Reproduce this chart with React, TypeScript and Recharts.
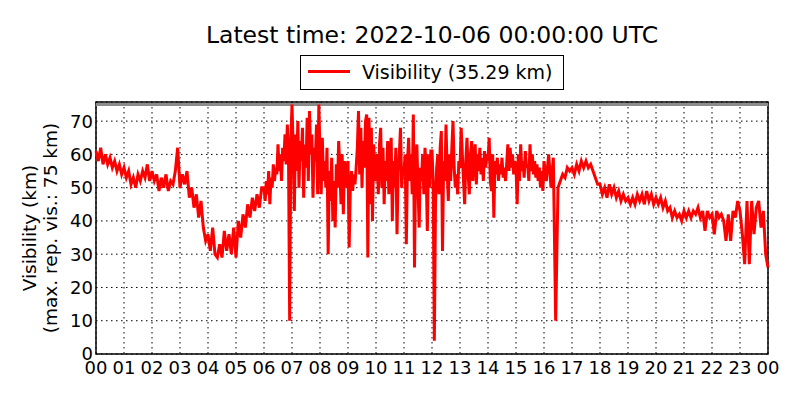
import {
  CartesianGrid,
  Label,
  Line,
  LineChart,
  ReferenceArea,
  ReferenceLine,
  XAxis,
  YAxis
} from "recharts";

// Visibilité sur 24 h: 12 valeurs par heure,
// 24 valeurs par heure pour la période bruitée (06-15 h).
const h00 = [61, 58, 62, 57, 60, 57, 59, 56, 58, 55, 57, 54];
const h01 = [56, 53, 55, 51, 53, 50, 54, 52, 55, 53, 57, 52];
const h02 = [55, 52, 54, 49, 53, 50, 54, 49, 52, 51, 55, 62];
const h03 = [50, 54, 51, 55, 47, 50, 44, 48, 41, 46, 38, 34];
const h04 = [36, 31, 38, 30, 29, 33, 29, 37, 31, 36, 30, 38];
const h05 = [29, 40, 35, 42, 38, 45, 41, 47, 43, 48, 44, 50];
const h06 = [50, 46, 52, 48, 55, 45, 53, 50, 57, 52, 56, 54, 63, 55, 60, 52, 62, 58, 66, 57, 69, 60, 10, 64];
const h07 = [75, 62, 43, 66, 55, 70, 50, 64, 58, 68, 47, 63, 56, 71, 52, 73, 60, 66, 47, 62, 58, 69, 48, 75];
const h08 = [60, 48, 65, 52, 58, 50, 62, 30, 55, 46, 59, 40, 52, 38, 57, 50, 64, 56, 45, 60, 42, 58, 50, 56];
const h09 = [58, 32, 50, 55, 49, 54, 51, 56, 62, 73, 54, 68, 50, 64, 56, 70, 72, 29, 71, 45, 68, 40, 63, 55];
const h10 = [52, 60, 48, 63, 68, 50, 62, 45, 58, 52, 64, 48, 60, 65, 40, 58, 50, 62, 36, 55, 60, 68, 50, 56];
const h11 = [55, 60, 33, 58, 65, 52, 60, 48, 72, 26, 58, 63, 50, 38, 56, 52, 60, 48, 62, 55, 37, 60, 50, 61];
const h12 = [61, 52, 4, 45, 56, 60, 48, 62, 67, 31, 58, 52, 69, 55, 46, 60, 52, 62, 70, 56, 50, 54, 48, 58];
const h13 = [56, 68, 60, 52, 45, 58, 65, 54, 48, 60, 64, 52, 58, 63, 51, 60, 55, 62, 54, 59, 52, 61, 56, 60];
const h14 = [58, 65, 52, 49, 60, 41, 58, 54, 59, 52, 57, 54, 59, 53, 56, 52, 57, 63, 55, 62, 56, 60, 54, 58];
const h15 = [56, 45, 60, 52, 63, 55, 58, 53, 61, 56, 57, 52, 63, 55, 60, 54, 58, 53, 57, 52, 56, 50, 55, 49];
const h16 = [58, 52, 60, 50, 59, 10, 50, 52, 54, 53, 56, 55];
const h17 = [56, 54, 57, 55, 58, 56, 58, 56, 57, 55, 53, 51];
const h18 = [51, 48, 50, 47, 51, 48, 50, 47, 49, 46, 48, 46];
const h19 = [47, 45, 47, 45, 48, 46, 48, 45, 49, 46, 48, 45];
const h20 = [47, 45, 47, 44, 46, 43, 44, 41, 43, 41, 42, 40];
const h21 = [43, 41, 43, 41, 43, 42, 44, 41, 43, 37, 43, 41];
const h22 = [42, 36, 43, 41, 42, 40, 34, 42, 34, 43, 41, 46];
const h23 = [43, 36, 27, 46, 27, 46, 36, 44, 46, 38, 43, 30];
const lastValue = 26;

const HOURS = [
  h00, h01, h02, h03, h04, h05, h06, h07, h08, h09, h10, h11,
  h12, h13, h14, h15, h16, h17, h18, h19, h20, h21, h22, h23
];

const X_TICKS = Array.from({ length: 25 }, (_, i) => i);
const Y_TICKS = [0, 10, 20, 30, 40, 50, 60, 70];

const TITLE = "Latest time: 2022-10-06 00:00:00 UTC";
const LEGEND_LABEL = "Visibility (35.29 km)";

const data = [
  ...HOURS.flatMap((values, hour) =>
    values.map((vis, i) => ({ t: hour + i / values.length, vis }))
  ),
  { t: 24, vis: lastValue }
];

const FONT = "DejaVu Sans, sans-serif";

function YLabel({ viewBox }: any) {
  const cy = viewBox.y + viewBox.height / 2;
  return (
    <text
      transform={`translate(47, ${cy}) rotate(-90)`}
      textAnchor="middle"
      fontFamily={FONT}
      fontSize={18.5}
      fill="#000"
    >
      <tspan x={0} dy={-11}>Visibility (km)</tspan>
      <tspan x={0} dy={21}>(max. rep. vis.: 75 km)</tspan>
    </text>
  );
}

export default function App() {
  return (
    <div style={{ position: "absolute", left: 0, top: 0, width: 800, height: 400, fontFamily: FONT }}>
      <div
        style={{
          position: "absolute",
          left: 0,
          top: 20,
          width: 864,
          textAlign: "center",
          fontSize: 23.5,
          lineHeight: "30px",
          color: "#000"
        }}
      >
        {TITLE}
      </div>
      <div
        style={{
          position: "absolute",
          left: 300,
          top: 55,
          width: 262,
          height: 33,
          border: "1px solid #000",
          background: "#fff"
        }}
      >
        <div
          style={{
            position: "absolute",
            left: 7,
            top: 14,
            width: 42,
            height: 3,
            background: "#ff0000"
          }}
        />
        <div
          style={{
            position: "absolute",
            left: 61,
            top: 3,
            fontSize: 19,
            lineHeight: "26px",
            whiteSpace: "nowrap"
          }}
        >
          {LEGEND_LABEL}
        </div>
      </div>
      <LineChart
        width={800}
        height={400}
        data={data}
        margin={{ top: 102, right: 32, left: 56, bottom: 16 }}
      >
        <CartesianGrid stroke="#000" strokeDasharray="1.5 3.5" strokeWidth={1} />
        <XAxis
          dataKey="t"
          type="number"
          domain={[0, 24]}
          ticks={X_TICKS}
          interval={0}
          tickFormatter={(h: number) => String(h % 24).padStart(2, "0")}
          tick={{ fill: "#000", fontSize: 18, fontFamily: FONT }}
          tickLine={false}
          tickSize={5}
          axisLine={false}
          height={30}
        />
        <YAxis
          type="number"
          domain={[0, 75.75]}
          ticks={Y_TICKS}
          interval={0}
          tick={{ fill: "#000", fontSize: 18, fontFamily: FONT }}
          tickLine={false}
          tickSize={1}
          axisLine={false}
          width={40}
        >
          <Label content={<YLabel />} />
        </YAxis>
        <ReferenceLine y={75} stroke="#8c8c8c" strokeWidth={3} ifOverflow="extendDomain" />
        <Line
          type="linear"
          dataKey="vis"
          stroke="#ff0000"
          strokeWidth={3}
          dot={false}
          isAnimationActive={false}
        />
        <ReferenceArea
          x1={0}
          x2={24}
          y1={0}
          y2={75.75}
          fill="none"
          fillOpacity={0}
          stroke="#000"
          strokeWidth={1.5}
        />
      </LineChart>
    </div>
  );
}
